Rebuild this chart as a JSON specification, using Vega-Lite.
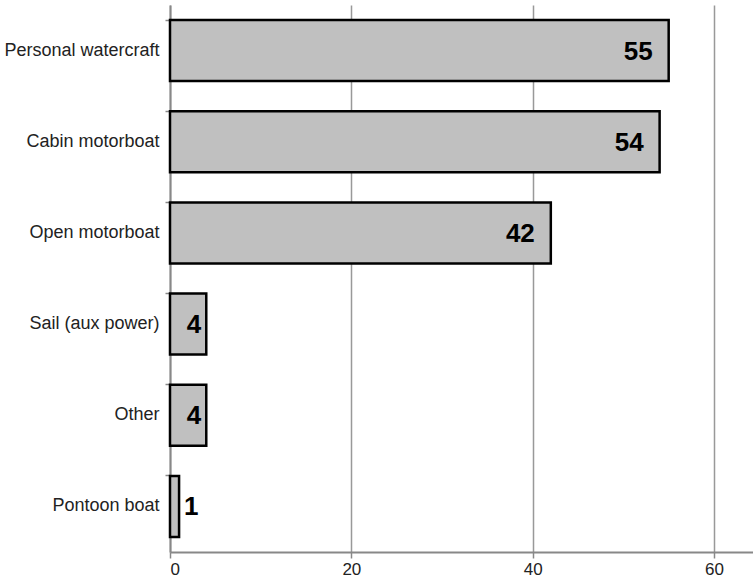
{
  "$schema": "https://vega.github.io/schema/vega-lite/v6.json",
  "autosize": "none",
  "width": 583,
  "height": 547,
  "padding": {"left": 170, "top": 5, "right": 0, "bottom": 34},
  "background": "white",
  "config": {"view": {"stroke": null}, "font": "Liberation Sans"},
  "data": {"values": [
    {"type": "Personal watercraft", "n": 55},
    {"type": "Cabin motorboat", "n": 54},
    {"type": "Open motorboat", "n": 42},
    {"type": "Sail (aux power)", "n": 4},
    {"type": "Other", "n": 4},
    {"type": "Pontoon boat", "n": 1}
  ]},
  "encoding": {
    "y": {"field": "type", "type": "nominal", "sort": null,
      "scale": {"paddingInner": 0.33, "paddingOuter": 0.165},
      "axis": {"title": null, "bandPosition": 0, "domainColor": "#888888", "domainWidth": 2, "tickColor": "#888888", "tickSize": 5, "tickWidth": 1.5, "labelFontSize": 18, "labelColor": "#222222", "labelPadding": 6, "labelFont": "Liberation Sans"}},
    "x": {"field": "n", "type": "quantitative",
      "scale": {"domain": [0, 64.3], "nice": false},
      "axis": {"title": null, "values": [0, 20, 40, 60], "grid": true, "gridColor": "#999999", "gridWidth": 1.5, "domainColor": "#888888", "domainWidth": 2, "tickColor": "#888888", "tickSize": 6, "tickWidth": 1.5, "labelFontSize": 17, "labelColor": "#222222", "labelPadding": 3, "labelFont": "Liberation Sans"}}
  },
  "layer": [
    {"mark": {"type": "bar", "fill": "#c0c0c0", "stroke": "#000000", "strokeWidth": 2.5}},
    {"mark": {"type": "text", "fontSize": 26, "fontWeight": "bold", "font": "Liberation Sans", "color": "#000000", "baseline": "middle", "dy": 1,
      "align": {"expr": "datum.n < 2 ? 'left' : 'right'"},
      "dx": {"expr": "datum.n >= 10 ? -16 : (datum.n >= 2 ? -5 : 5)"}},
     "encoding": {"text": {"field": "n", "type": "quantitative"}}}
  ]
}
